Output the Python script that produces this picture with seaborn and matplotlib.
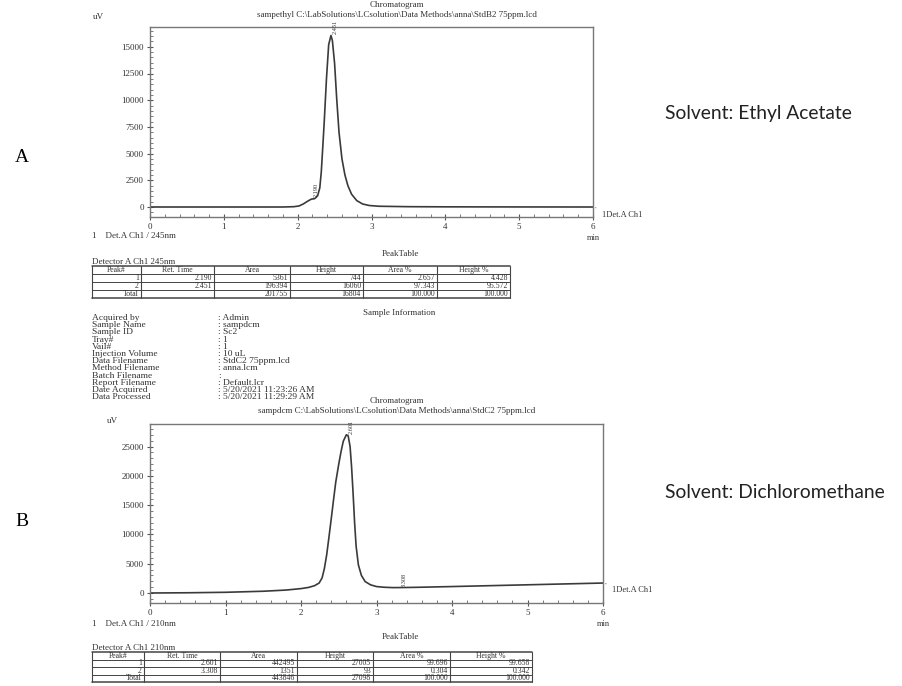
import matplotlib
matplotlib.use('Agg')
import matplotlib.pyplot as plt
import matplotlib.ticker as mticker
import seaborn as sns
import pandas as pd

# chromatogram A (ethyl acetate, 245 nm)
time_a = [0.0, 1.0, 1.8, 1.95, 2.02, 2.08, 2.13, 2.17, 2.19, 2.23, 2.27, 2.30, 2.32,
          2.34, 2.36, 2.39, 2.42, 2.451, 2.47, 2.50, 2.53, 2.56, 2.60, 2.64, 2.68,
          2.73, 2.80, 2.88, 2.97, 3.1, 3.5, 4.0, 5.0, 6.0]
signal_a = [0, 0, 0, 30, 100, 300, 520, 680, 744, 780, 1050, 1800, 3300,
            5600, 8000, 12000, 15200, 16060, 15600, 13450, 10000, 7000, 4500, 3000, 2000,
            1200, 600, 280, 140, 70, 30, 15, 5, 0]

# chromatogram B (dichloromethane, 210 nm)
time_b = [0.0, 0.5, 1.0, 1.5, 1.8, 2.0, 2.1, 2.18, 2.24, 2.28, 2.31, 2.34, 2.37,
          2.40, 2.43, 2.46, 2.50, 2.53, 2.56, 2.601, 2.625, 2.65, 2.67, 2.69, 2.71,
          2.73, 2.76, 2.80, 2.85, 2.92, 3.0, 3.1, 3.22, 3.308, 3.5, 4.0, 5.0, 6.0]
signal_b = [0, 40, 120, 300, 500, 750, 950, 1250, 1700, 2600, 4200, 6500, 9500,
            12600, 15800, 18900, 22000, 24100, 25900, 27005, 26800, 25000, 21500, 17000, 12000,
            8000, 4800, 3000, 1950, 1400, 1100, 980, 920, 930, 960, 1100, 1400, 1700]

peaks_a = [(2.190, 744, '2.190'), (2.451, 16060, '2.451')]
peaks_b = [(2.601, 27005, '2.601'), (3.308, 930, '3.308')]

yticks_a = [0, 2500, 5000, 7500, 10000, 12500, 15000]
yticks_b = [0, 5000, 10000, 15000, 20000, 25000]

table_header = ['Peak#', 'Ret. Time', 'Area', 'Height', 'Area %', 'Height %']
table_a = [['1', '2.190', '5361', '744', '2.657', '4.428'],
           ['2', '2.451', '196394', '16060', '97.343', '95.572'],
           ['Total', '', '201755', '16804', '100.000', '100.000']]
table_b = [['1', '2.601', '442495', '27005', '99.696', '99.658'],
           ['2', '3.308', '1351', '93', '0.304', '0.342'],
           ['Total', '', '443846', '27098', '100.000', '100.000']]

info_labels = ['Acquired by', 'Sample Name', 'Sample ID', 'Tray#', 'Vail#',
               'Injection Volume', 'Data Filename', 'Method Filename',
               'Batch Filename', 'Report Filename', 'Date Acquired', 'Data Processed']
info_values = [': Admin', ': sampdcm', ': Sc2', ': 1', ': 1', ': 10 uL',
               ': StdC2 75ppm.lcd', ': anna.lcm', ':', ': Default.lcr',
               ': 5/20/2021 11:23:26 AM', ': 5/20/2021 11:29:29 AM']

sns.set_style('white')
plt.rcParams['font.family'] = ['Liberation Serif', 'DejaVu Serif']

W, H = 902, 686
fig = plt.figure(figsize=(W / 100, H / 100), dpi=100)
ink = '#333333'
small = 6.5


def add_chrom(left, right, top, bottom, zero_px, px_per_unit, t, s, yticks, minor, peaks):
    ax = fig.add_axes([left / W, 1 - bottom / H, (right - left) / W, (bottom - top) / H])
    df = pd.DataFrame({'t': t, 's': s})
    sns.lineplot(data=df, x='t', y='s', ax=ax, color='#3a3a3a', linewidth=1.2)
    ax.set_xlim(0, 6)
    ax.set_ylim(-(bottom - zero_px) / px_per_unit, (zero_px - top) / px_per_unit)
    ax.set_xticks(range(7))
    ax.set_yticks(yticks)
    ax.xaxis.set_minor_locator(mticker.MultipleLocator(0.2))
    ax.yaxis.set_minor_locator(mticker.MultipleLocator(minor))
    ax.tick_params(which='major', direction='inout', length=5, width=0.8, colors='#555555',
                   labelsize=small, labelcolor=ink, pad=2)
    ax.tick_params(which='minor', direction='in', length=2.5, width=0.6, colors='#666666')
    ax.tick_params(axis='x', which='both', bottom=True)
    ax.tick_params(axis='y', which='both', left=True)
    for sp in ax.spines.values():
        sp.set_color('#777777')
        sp.set_linewidth(1.0)
    ax.set_xlabel('')
    ax.set_ylabel('')
    for pt, pv, lab in peaks:
        ax.text(pt + 0.03, pv + 150, lab, rotation=90, fontsize=4.5, color=ink,
                ha='left', va='bottom')
    # channel label at the end of the trace
    ax.annotate('1Det.A Ch1', xy=(6, s[-1]), xytext=(6.12, s[-1] - 0.05 * (yticks[-1])),
                textcoords='data', fontsize=small - 0.5, color=ink, va='center', ha='left',
                annotation_clip=False,
                arrowprops=dict(arrowstyle='-', color='#555555', lw=0.7))
    return ax


ax_a = add_chrom(150, 593, 27, 217, 207, 26.7 / 2500, time_a, signal_a, yticks_a, 500, peaks_a)
ax_b = add_chrom(150, 603, 424, 603, 593, 29.3 / 5000, time_b, signal_b, yticks_b, 1000, peaks_b)

# overlay in pixel coordinates for the report text
ov = fig.add_axes([0, 0, 1, 1])
ov.set_xlim(0, W)
ov.set_ylim(H, 0)
ov.axis('off')
ov.patch.set_alpha(0)


def txt(x, y, s, **kw):
    kw.setdefault('fontsize', small)
    kw.setdefault('color', ink)
    kw.setdefault('va', 'center')
    ov.text(x, y, s, **kw)


txt(397, 5, 'Chromatogram', ha='center')
txt(397, 15, r'sampethyl C:\LabSolutions\LCsolution\Data Methods\anna\StdB2 75ppm.lcd', ha='center')
txt(98, 17, 'uV', ha='center')
txt(593, 238, 'min', ha='center', fontsize=small - 0.5)
txt(92, 236, '1    Det.A Ch1 / 245nm')

txt(397, 401, 'Chromatogram', ha='center')
txt(397, 411, r'sampdcm C:\LabSolutions\LCsolution\Data Methods\anna\StdC2 75ppm.lcd', ha='center')
txt(112, 421, 'uV', ha='center')
txt(603, 624, 'min', ha='center', fontsize=small - 0.5)
txt(92, 624, '1    Det.A Ch1 / 210nm')


def draw_table(x_edges, top, row_h, title_y, det_y, det_label, rows):
    txt(400, title_y, 'PeakTable', ha='center')
    txt(x_edges[0], det_y, det_label)
    all_rows = [table_header] + rows
    n = len(all_rows)
    bottom = top + n * row_h
    for xe in x_edges:
        ov.plot([xe, xe], [top, bottom], color='#444444', lw=0.8)
    for i in range(n + 1):
        lw = 1.1 if i in (0, n) else 0.7
        ov.plot([x_edges[0], x_edges[-1]], [top + i * row_h] * 2, color='#444444', lw=lw)
    for i, row in enumerate(all_rows):
        yc = top + (i + 0.5) * row_h
        for j, cell in enumerate(row):
            if i == 0:
                txt((x_edges[j] + x_edges[j + 1]) / 2, yc, cell, ha='center', fontsize=5.6)
            else:
                txt(x_edges[j + 1] - 2, yc, cell, ha='right', fontsize=5.6)


draw_table([92, 141, 214, 290, 363, 437, 510], 266, 8, 254, 262,
           'Detector A Ch1 245nm', table_a)
draw_table([92, 144, 220, 297, 373, 450, 532], 652, 7.5, 637, 648,
           'Detector A Ch1 210nm', table_b)

# sample information block
txt(399, 313, 'Sample Information', ha='center')
for k, (lab, val) in enumerate(zip(info_labels, info_values)):
    y = 318 + k * 7.2
    txt(92, y, lab, fontsize=6.8)
    txt(218, y, val, fontsize=6.8)

# panel letters and solvent notes
txt(22, 157, 'A', fontsize=14, color='black', ha='center')
txt(22, 522, 'B', fontsize=14, color='black', ha='center')
txt(665, 114, 'Solvent: Ethyl Acetate', fontsize=13.9, color='#222222', family='Lato')
txt(665, 492, 'Solvent: Dichloromethane', fontsize=13.9, color='#222222', family='Lato')

fig.savefig('out.png', dpi=100)
